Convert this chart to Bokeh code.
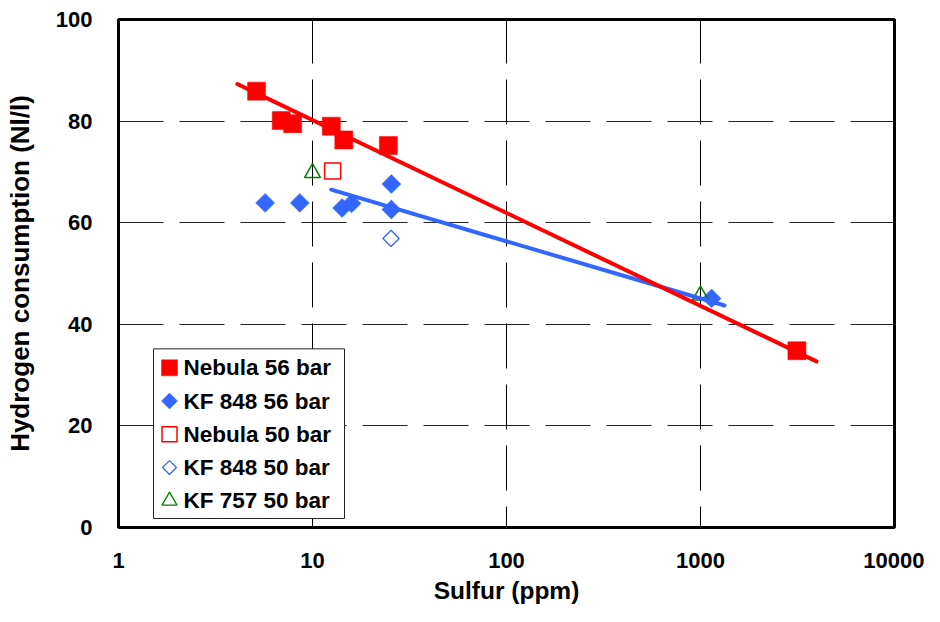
import numpy as np
from bokeh.plotting import figure
from bokeh.models import Range1d, LinearScale, FixedTicker, NumeralTickFormatter
from bokeh.core.properties import value
from bokeh.embed import file_html
from bokeh.resources import INLINE

# ---------------- data ----------------
neb56_s = [5.15, 6.9, 7.9, 12.5, 14.5, 24.6, 3140]
neb56_h = [85.9, 80.1, 79.5, 79.0, 76.3, 75.2, 34.8]

kf848_56_s = [5.7, 8.6, 14.2, 15.9, 25.5, 25.5, 1140]
kf848_56_h = [63.9, 63.9, 62.9, 63.8, 67.6, 62.6, 45.1]

neb50_s = [12.7]
neb50_h = [70.2]

kf848_50_s = [25.4]
kf848_50_h = [56.9]

kf757_50_s = [10.0, 1000]
kf757_50_h = [69.8, 45.7]

# logarithmic trend lines (end points)
neb56_trend_s = [4.1, 3960]
neb56_trend_h = [87.3, 32.7]
kf848_56_trend_s = [12.5, 1330]
kf848_56_trend_h = [66.5, 43.7]

x_ticks = [1, 10, 100, 1000, 10000]
x_tick_labels = ["1", "10", "100", "1000", "10000"]
y_ticks = [0, 20, 40, 60, 80, 100]
y_tick_labels = ["0", "20", "40", "60", "80", "100"]

legend_labels = ["Nebula 56 bar", "KF 848 56 bar", "Nebula 50 bar",
                 "KF 848 50 bar", "KF 757 50 bar"]

RED = "#FF0000"
BLUE = "#3366FF"
GREEN = "#008000"
FONT = "Liberation Sans"

# ---------------- layout ----------------
W, H = 924, 606
BL, BR, BT, BB = 118, 30, 19, 78
FX0, FX1 = BL, W - BR          # frame edges in canvas pixels
FY0, FY1 = BT, H - BB

p = figure(width=W, height=H, x_axis_type="log",
           x_range=Range1d(1, 10000), y_range=Range1d(0, 100),
           output_backend="svg", toolbar_location=None,
           min_border_left=BL, min_border_right=BR,
           min_border_top=BT, min_border_bottom=BB,
           background_fill_color="white", border_fill_color="white")

p.outline_line_color = "black"
p.outline_line_width = 3

# axes
p.xaxis.ticker = FixedTicker(ticks=x_ticks)
p.xaxis.formatter = NumeralTickFormatter(format="0")
p.xaxis.major_label_overrides = dict(zip(x_ticks, x_tick_labels))
p.yaxis.ticker = FixedTicker(ticks=y_ticks)
p.yaxis.major_label_overrides = dict(zip(y_ticks, y_tick_labels))
for ax in (p.xaxis, p.yaxis):
    ax.axis_line_color = None
    ax.major_tick_line_color = None
    ax.minor_tick_line_color = None
    ax.major_tick_out = 0
    ax.major_tick_in = 0
    ax.major_label_text_font = FONT
    ax.major_label_text_font_style = "bold"
    ax.major_label_text_color = "black"
    ax.axis_label_text_font = FONT
    ax.axis_label_text_font_style = "bold"
    ax.axis_label_text_color = "black"

p.xaxis.major_label_text_font_size = "22px"
p.yaxis.major_label_text_font_size = "22px"
p.xaxis.axis_label_text_font_size = "24.5px"
p.yaxis.axis_label_text_font_size = "26px"
p.xaxis.major_label_standoff = 25
p.xaxis.axis_label_standoff = 6
p.yaxis.major_label_standoff = 26
p.yaxis.axis_label_standoff = 18
p.xaxis.axis_label = "Sulfur (ppm)"
p.yaxis.axis_label = "Hydrogen consumption (Nl/l)"

# grid
for g in (p.xgrid, p.ygrid):
    g.grid_line_color = "black"
    g.grid_line_width = 1
    g.grid_line_dash = "45 16"
p.xgrid.grid_line_dash_offset = 24
p.ygrid.grid_line_alpha = 0.85

# markers
p.scatter(neb56_s, neb56_h, marker="square", size=18,
          fill_color=RED, line_color=RED, line_width=0.5)
p.scatter(kf848_56_s, kf848_56_h, marker="square", size=13.4, angle=np.pi / 4,
          fill_color=BLUE, line_color=BLUE, line_width=0.5)
p.scatter(neb50_s, neb50_h, marker="square", size=16,
          fill_color=None, line_color=RED, line_width=1.5)
p.scatter(kf848_50_s, kf848_50_h, marker="square", size=11.5, angle=np.pi / 4,
          fill_color=None, line_color=BLUE, line_width=1.3)
p.scatter(kf757_50_s, kf757_50_h, marker="triangle", size=16,
          fill_color=None, line_color=GREEN, line_width=1.5)

# trend lines
p.line(kf848_56_trend_s, kf848_56_trend_h, line_color=BLUE, line_width=4,
       line_cap="round")
p.line(neb56_trend_s, neb56_trend_h, line_color=RED, line_width=4,
       line_cap="round")

# ---------------- legend (drawn in canvas-pixel coordinates) ----------------
p.extra_x_ranges = {"lgx": Range1d(FX0, FX1)}
p.extra_y_ranges = {"lgy": Range1d(FY1, FY0)}   # flipped: grows downwards
p.extra_x_scales = {"lgx": LinearScale()}
p.extra_y_scales = {"lgy": LinearScale()}

lg_left, lg_right, lg_top, lg_bottom = 153, 344, 349, 519
row_pitch = 33.3
rows = [lg_top + 19 + i * row_pitch for i in range(len(legend_labels))]
glyph_x = lg_left + 16
text_x = lg_left + 30
kw = dict(x_range_name="lgx", y_range_name="lgy")

p.quad(left=[lg_left], right=[lg_right], bottom=[lg_bottom], top=[lg_top],
       fill_color="white", line_color="#222222", line_width=1, **kw)
p.scatter([glyph_x], [rows[0]], marker="square", size=16,
          fill_color=RED, line_color=RED, line_width=0.5, **kw)
p.scatter([glyph_x], [rows[1]], marker="square", size=11.3, angle=np.pi / 4,
          fill_color=BLUE, line_color=BLUE, line_width=0.5, **kw)
p.scatter([glyph_x], [rows[2]], marker="square", size=15,
          fill_color=None, line_color=RED, line_width=1.5, **kw)
p.scatter([glyph_x], [rows[3]], marker="square", size=9.8, angle=np.pi / 4,
          fill_color=None, line_color=BLUE, line_width=1.3, **kw)
p.scatter([glyph_x], [rows[4]], marker="triangle", size=15,
          fill_color=None, line_color=GREEN, line_width=1.3, **kw)
p.text(x=[text_x] * len(legend_labels), y=rows, text=legend_labels,
       text_font=value(FONT), text_font_style="bold", text_font_size="22.5px",
       text_color="black", text_baseline="middle", text_align="left", **kw)

open("out.html", "w").write(file_html(p, INLINE))
